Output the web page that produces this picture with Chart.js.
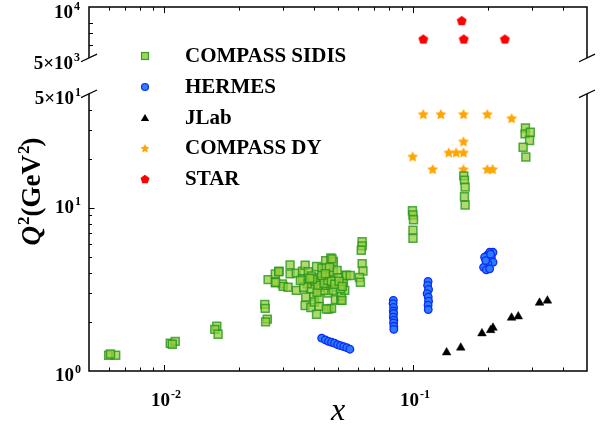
<!DOCTYPE html>
<html>
<head>
<meta charset="utf-8">
<script src="https://cdn.jsdelivr.net/npm/chart.js@4.4.1/dist/chart.umd.min.js"></script>
<style>
  html, body { margin: 0; padding: 0; background: #fff; }
  #wrap { position: relative; width: 603px; height: 431px; }
</style>
</head>
<body>
<div id="wrap"><canvas id="q2Chart" width="603" height="431"></canvas></div>
<script>
// Kinematic coverage (x, Q^2) of the data sets
const sidisX = [0.0060, 0.0064, 0.0061,
  0.0106, 0.0111, 0.0108,
  0.0163, 0.0160, 0.0165,
  0.0254, 0.0255, 0.0260, 0.0256,
  0.0262, 0.0280, 0.0280, 0.0290, 0.0299, 0.0301, 0.0315, 0.0321, 0.0321, 0.0340,
  0.0340, 0.0360, 0.0360, 0.0369, 0.0371, 0.0369, 0.0380, 0.0389, 0.0392, 0.0397,
  0.0400, 0.0402, 0.0410, 0.0410, 0.0420, 0.0420, 0.0420, 0.0431, 0.0446, 0.0449,
  0.0454, 0.0457, 0.0459, 0.0468, 0.0471, 0.0479, 0.0479, 0.0488, 0.0493, 0.0496,
  0.0501, 0.0513, 0.0516, 0.0519, 0.0526, 0.0532, 0.0538, 0.0425, 0.0439, 0.0450,
  0.0387, 0.0376, 0.0364, 0.0353, 0.0466, 0.0479, 0.0511, 0.0412, 0.0436, 0.0462,
  0.0473, 0.0541, 0.0519, 0.0289, 0.0281, 0.0449, 0.0560,
  0.0405, 0.0415, 0.0440, 0.0455, 0.0470, 0.0485, 0.0430, 0.0395, 0.0445, 0.0505, 0.0520, 0.0385,
  0.0625, 0.0625, 0.0620, 0.0625, 0.0630, 0.0610, 0.0615,
  0.0995, 0.1000, 0.1005, 0.1000, 0.1000,
  0.160, 0.161, 0.162, 0.161, 0.162,
  0.283, 0.282, 0.296, 0.294, 0.277, 0.284];
const sidisQ2 = [1.25, 1.25, 1.27,
  1.48, 1.52, 1.46,
  1.88, 1.80, 1.68,
  2.56, 2.42, 2.08, 2.00,
  3.63, 3.47, 3.94, 4.09, 3.42, 3.30, 3.26, 4.47, 3.94, 3.12,
  3.98, 4.09, 3.68, 4.45, 2.84, 2.52, 4.06, 2.45, 3.83, 3.42,
  2.86, 2.65, 4.37, 2.23, 2.77, 2.49, 3.73, 4.28, 4.75, 4.28,
  3.76, 3.00, 2.40, 4.93, 2.42, 4.70, 4.04, 2.74, 3.26, 4.13,
  3.73, 2.71, 2.89, 3.42, 3.50, 3.12, 3.87, 3.26, 3.12, 3.35,
  3.19, 3.42, 3.26, 3.59, 3.42, 3.12, 3.19, 3.04, 3.59, 4.32,
  4.87, 3.85, 2.71, 4.06, 3.50, 2.40, 3.85,
  3.55, 3.35, 3.45, 3.60, 3.55, 3.40, 3.85, 3.65, 3.95, 3.55, 3.30, 3.70,
  6.20, 5.85, 5.50, 4.55, 4.10, 3.74, 3.50,
  9.60, 9.05, 8.45, 7.30, 6.50,
  15.7, 14.8, 13.4, 11.7, 10.4,
  30.9, 28.4, 29.1, 25.9, 23.5, 20.5];

const hermesX = [0.0430, 0.0445, 0.0458, 0.0471, 0.0484, 0.0498, 0.0512, 0.0527, 0.0542, 0.0558,
  0.0834, 0.0832, 0.0836, 0.0834, 0.0836, 0.0834, 0.0838, 0.0836, 0.0838, 0.0838,
  0.1150, 0.1145, 0.1155, 0.1140, 0.1152, 0.1155, 0.1150, 0.1152,
  0.2096, 0.2032, 0.1982, 0.2065, 0.1940, 0.2096, 0.2000, 0.1922, 0.1970, 0.2032, 0.2050, 0.1960];
const hermesQ2 = [1.59, 1.55, 1.52, 1.50, 1.48, 1.45, 1.43, 1.41, 1.39, 1.36,
  2.71, 2.59, 2.45, 2.33, 2.25, 2.14, 2.05, 1.97, 1.88, 1.80,
  3.54, 3.35, 3.16, 2.98, 2.84, 2.68, 2.53, 2.38,
  5.34, 5.34, 5.10, 4.98, 4.98, 4.64, 4.53, 4.32, 4.17, 4.23, 5.20, 4.75];

const jlabX = [0.1365, 0.1556, 0.1893, 0.2051, 0.2096, 0.2489, 0.2648, 0.3224, 0.3467];
const jlabQ2 = [1.30, 1.39, 1.70, 1.78, 1.84, 2.12, 2.16, 2.62, 2.70];

const dyX = [0.110, 0.1294, 0.1595, 0.199, 0.249, 0.1595, 0.1393, 0.149, 0.1595, 0.0997, 0.120, 0.1595, 0.199, 0.209];
const dyQ2 = [37.6, 37.6, 37.6, 37.6, 35.5, 25.6, 21.9, 21.9, 21.9, 20.7, 17.3, 17.3, 17.3, 17.3];

const starX = [0.110, 0.157, 0.160, 0.234];
const starQ2 = [6464, 8315, 6464, 6464];

const seriesNames = ['COMPASS SIDIS', 'HERMES', 'JLab', 'COMPASS DY', 'STAR'];

// axis ranges and labelled ticks
const xRange = [0.005, 0.5];
const q2LowRange = [1, 50];
const q2HighRange = [5000, 10000];
const xTickValues = [0.01, 0.1];
const xTickLabels = [['10', '-2'], ['10', '-1']];
const xMinorTicks = [0.006, 0.007, 0.008, 0.009, 0.02, 0.03, 0.04, 0.05, 0.06, 0.07, 0.08, 0.09, 0.2, 0.3, 0.4];
const lowTickValues = [1, 10, 50];
const lowTickLabels = [['10', '0'], ['10', '1'], ['5\u00d710', '1']];
const lowMinorTicks = [2, 3, 4, 5, 6, 7, 8, 9, 20, 30, 40];
const highTickValues = [5000, 10000];
const highTickLabels = [['5\u00d710', '3'], ['10', '4']];
const highMinorTicks = [6000, 7000, 8000];

const serif = '"Liberation Serif", "Times New Roman", serif';

function pairs(xs, ys) {
  return xs.map((x, i) => ({ x: x, y: ys[i] }));
}

// filled marker glyphs that Chart.js has no built-in style for
function polygonMarker(size, fill, points, inner) {
  const c = document.createElement('canvas');
  c.width = size; c.height = size;
  const g = c.getContext('2d');
  const cx = size / 2, cy = size / 2 + (inner ? 0.6 : 0.4);
  const R = size / 2 - 0.3;
  const n = inner ? points * 2 : points;
  g.beginPath();
  for (let i = 0; i < n; i++) {
    const r = inner && i % 2 === 1 ? R * inner : R;
    const a = -Math.PI / 2 + i * 2 * Math.PI / n;
    const px = cx + r * Math.cos(a), py = cy + r * Math.sin(a);
    if (i === 0) g.moveTo(px, py); else g.lineTo(px, py);
  }
  g.closePath();
  g.fillStyle = fill;
  g.fill();
  return c;
}

const starMark = polygonMarker(12, '#ffa500', 5, 0.5);
const pentMark = polygonMarker(11, '#ff0000', 5, 0);
const starLegend = polygonMarker(10, '#ffa500', 5, 0.5);
const pentLegend = polygonMarker(10, '#ff0000', 5, 0);

function drawPower(ctx, base, exp, x, y, align, size, italicBase) {
  const supSize = Math.round(size * 0.62);
  ctx.font = (italicBase ? 'italic ' : '') + 'bold ' + size + 'px ' + serif;
  const wb = ctx.measureText(base).width;
  ctx.font = 'bold ' + supSize + 'px ' + serif;
  const we = ctx.measureText(exp).width;
  const total = wb + we + 1;
  const left = align === 'right' ? x - total : align === 'center' ? x - total / 2 : x;
  ctx.textAlign = 'left';
  ctx.textBaseline = 'alphabetic';
  ctx.font = (italicBase ? 'italic ' : '') + 'bold ' + size + 'px ' + serif;
  ctx.fillText(base, left, y);
  ctx.font = 'bold ' + supSize + 'px ' + serif;
  ctx.fillText(exp, left + wb + 1, y - size * 0.42);
  return total;
}

function slash(ctx, x, y) {
  ctx.beginPath();
  ctx.moveTo(x - 8, y + 3.8);
  ctx.lineTo(x + 8, y - 3.8);
  ctx.stroke();
}

// axes with a broken Q^2 range, inner ticks and the legend
const frame = {
  id: 'frame',
  afterDraw(chart) {
    const ctx = chart.ctx;
    const xs = chart.scales.x, lo = chart.scales.y, hi = chart.scales.yTop;
    const L = xs.left, R = xs.right;
    ctx.save();
    ctx.strokeStyle = '#000';
    ctx.fillStyle = '#000';
    ctx.lineWidth = 1.5;
    ctx.lineCap = 'butt';

    // upper panel: top edge and sides
    ctx.beginPath();
    ctx.moveTo(L, hi.bottom); ctx.lineTo(L, hi.top); ctx.lineTo(R, hi.top); ctx.lineTo(R, hi.bottom);
    ctx.stroke();
    // lower panel: sides and bottom edge
    ctx.beginPath();
    ctx.moveTo(L, lo.top); ctx.lineTo(L, lo.bottom); ctx.lineTo(R, lo.bottom); ctx.lineTo(R, lo.top);
    ctx.stroke();

    ctx.lineWidth = 1.2;
    slash(ctx, L, hi.bottom); slash(ctx, R, hi.bottom);
    slash(ctx, L, lo.top); slash(ctx, R, lo.top);

    // x ticks on the bottom and top edges
    ctx.lineWidth = 1;
    const xTick = (v, len) => {
      const p = Math.round(xs.getPixelForValue(v)) + 0.5;
      ctx.beginPath();
      ctx.moveTo(p, lo.bottom); ctx.lineTo(p, lo.bottom - len);
      ctx.moveTo(p, hi.top); ctx.lineTo(p, hi.top + len);
      ctx.stroke();
    };
    xMinorTicks.forEach(v => xTick(v, 3.5));
    xTickValues.forEach(v => xTick(v, 6));

    // y ticks on the left side
    const yTick = (scale, v, len) => {
      const p = Math.round(scale.getPixelForValue(v)) + 0.5;
      ctx.beginPath();
      ctx.moveTo(L, p); ctx.lineTo(L + len, p);
      ctx.stroke();
    };
    lowMinorTicks.forEach(v => yTick(lo, v, 3));
    yTick(lo, 10, 5.5);
    highMinorTicks.forEach(v => yTick(hi, v, 4));

    // tick labels
    xTickValues.forEach((v, i) => {
      drawPower(ctx, xTickLabels[i][0], xTickLabels[i][1], xs.getPixelForValue(v) + 2, lo.bottom + 35, 'center', 19);
    });
    lowTickValues.forEach((v, i) => {
      const p = lo.getPixelForValue(v);
      const dy = v === 10 ? 5 : 10;
      drawPower(ctx, lowTickLabels[i][0], lowTickLabels[i][1], L - 8, p + dy, 'right', 19);
    });
    highTickValues.forEach((v, i) => {
      const p = hi.getPixelForValue(v);
      drawPower(ctx, highTickLabels[i][0], highTickLabels[i][1], L - 9, p + 11, 'right', 19);
    });

    // axis titles
    ctx.font = 'italic 32px ' + serif;
    ctx.textAlign = 'center';
    ctx.textBaseline = 'alphabetic';
    ctx.fillText('x', (L + R) / 2 + 0, lo.bottom + 49);

    ctx.save();
    ctx.translate(40, 192);
    ctx.rotate(-Math.PI / 2);
    ctx.font = 'italic bold 27px ' + serif;
    const wq = ctx.measureText('Q').width;
    ctx.font = 'bold 16px ' + serif;
    const w2 = ctx.measureText('2').width;
    ctx.font = 'bold 27px ' + serif;
    const wg = ctx.measureText('(GeV').width;
    const wp = ctx.measureText(')').width;
    const w = wq + w2 + 1 + wg + w2 + wp;
    let cx = -w / 2;
    cx += drawPower(ctx, 'Q', '2', cx, 0, 'left', 27, true);
    cx += drawPower(ctx, '(GeV', '2', cx, 0, 'left', 27, false) - 1;
    ctx.font = 'bold 27px ' + serif;
    ctx.textAlign = 'left';
    ctx.fillText(')', cx, 0);
    ctx.restore();

    // legend
    const rows = [56, 87, 118, 148, 179];
    const mx = 145, tx = 185;
    ctx.font = 'bold 21px ' + serif;
    ctx.textAlign = 'left';
    ctx.textBaseline = 'middle';
    seriesNames.forEach((name, i) => ctx.fillText(name, tx, rows[i] + 1));

    ctx.lineWidth = 1.2;
    ctx.fillStyle = 'rgba(150,205,70,0.9)';
    ctx.strokeStyle = 'rgba(40,150,30,0.9)';
    ctx.fillRect(mx - 3.5, rows[0] - 3.5, 7, 7);
    ctx.strokeRect(mx - 3.5, rows[0] - 3.5, 7, 7);
    ctx.beginPath();
    ctx.arc(mx, rows[1], 3.5, 0, Math.PI * 2);
    ctx.fillStyle = '#2f7dff';
    ctx.strokeStyle = '#1030f0';
    ctx.fill(); ctx.stroke();
    ctx.beginPath();
    ctx.moveTo(mx, rows[2] - 4); ctx.lineTo(mx + 4.2, rows[2] + 3); ctx.lineTo(mx - 4.2, rows[2] + 3);
    ctx.closePath();
    ctx.fillStyle = '#000';
    ctx.fill();
    ctx.drawImage(starLegend, mx - 5, rows[3] - 5);
    ctx.drawImage(pentLegend, mx - 5, rows[4] - 5);
    ctx.restore();
  }
};

new Chart(document.getElementById('q2Chart'), {
  type: 'scatter',
  data: {
    datasets: [
      {
        label: seriesNames[0],
        data: pairs(sidisX, sidisQ2),
        yAxisID: 'y',
        pointStyle: 'rect',
        pointRadius: 5.6,
        backgroundColor: 'rgba(150,205,60,0.75)',
        borderColor: 'rgba(40,150,30,0.8)',
        borderWidth: 1.5
      },
      {
        label: seriesNames[1],
        data: pairs(hermesX, hermesQ2),
        yAxisID: 'y',
        pointStyle: 'circle',
        pointRadius: 3.8,
        backgroundColor: '#2a7cff',
        borderColor: '#0a2cf5',
        borderWidth: 1.3
      },
      {
        label: seriesNames[2],
        data: pairs(jlabX, jlabQ2),
        yAxisID: 'y',
        pointStyle: 'triangle',
        pointRadius: 5,
        backgroundColor: '#000',
        borderColor: '#000',
        borderWidth: 0.5
      },
      {
        label: seriesNames[3],
        data: pairs(dyX, dyQ2),
        yAxisID: 'y',
        pointStyle: starMark,
        pointRadius: 5
      },
      {
        label: seriesNames[4],
        data: pairs(starX, starQ2),
        yAxisID: 'yTop',
        pointStyle: pentMark,
        pointRadius: 5
      }
    ]
  },
  options: {
    responsive: false,
    animation: false,
    events: [],
    layout: { padding: { left: 89, right: 16, top: 6, bottom: 60 } },
    plugins: {
      legend: { display: false },
      tooltip: { enabled: false }
    },
    scales: {
      x: { type: 'logarithmic', min: xRange[0], max: xRange[1], display: false },
      // stacked left scales are laid out in reverse order: lower panel first
      y: {
        type: 'logarithmic', min: q2LowRange[0], max: q2LowRange[1],
        display: false, position: 'left', stack: 'q2', stackWeight: 278
      },
      yGap: {
        type: 'linear', min: 0, max: 1,
        display: false, position: 'left', stack: 'q2', stackWeight: 36
      },
      yTop: {
        type: 'logarithmic', min: q2HighRange[0], max: q2HighRange[1],
        display: false, position: 'left', stack: 'q2', stackWeight: 51
      }
    }
  },
  plugins: [frame]
});
</script>
</body>
</html>
